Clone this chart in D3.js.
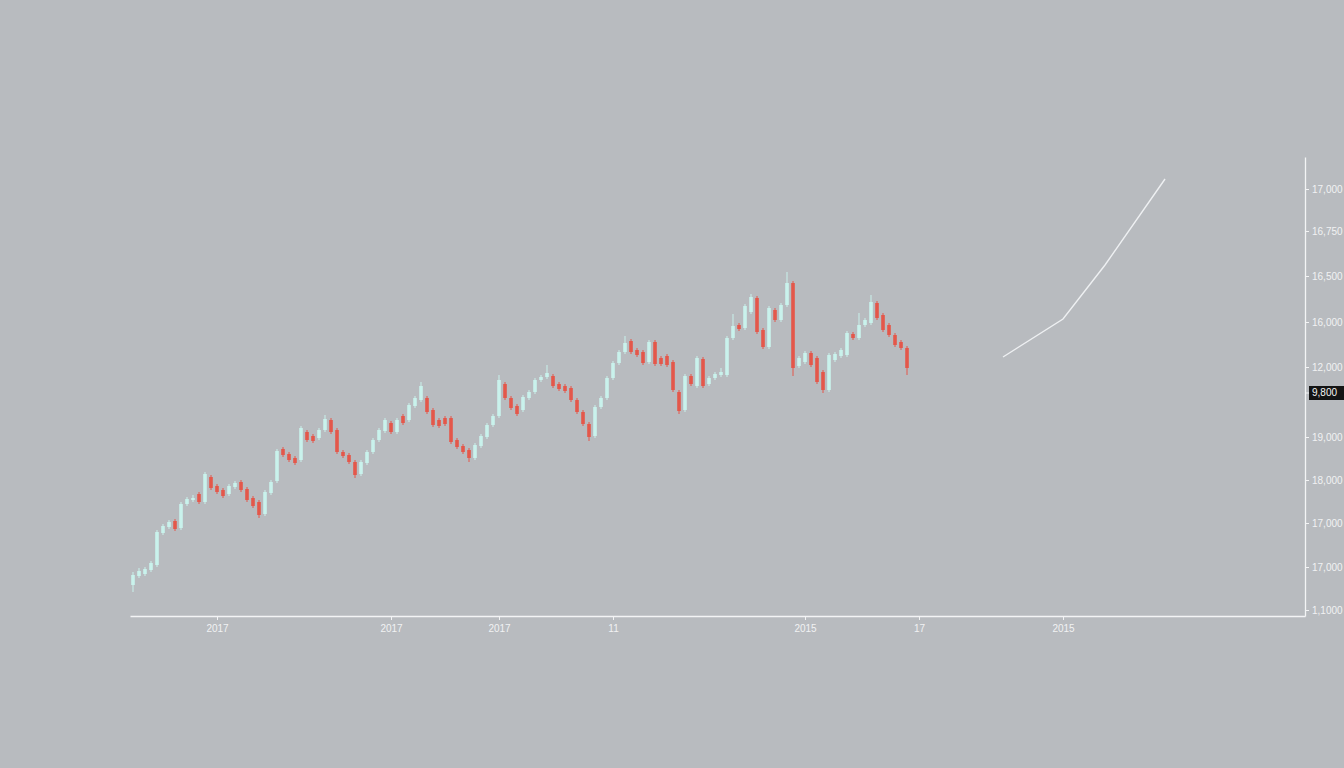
<!DOCTYPE html>
<html>
<head>
<meta charset="utf-8">
<script src="https://cdn.jsdelivr.net/npm/d3@7"></script>
<style>
  html, body { margin: 0; padding: 0; background: #b8bbbf; }
  svg { display: block; }
  .axis text { font-family: "Liberation Sans", Arial, sans-serif; fill: #f1f2f3; }
  .axis path, .axis line { stroke: #f3f4f5; }
</style>
</head>
<body>
<svg id="chart" width="1344" height="768"></svg>
<script>
// ---- data ----
const opens = [11250,11340,11360,11400,11450,11770,11830,11890,11820,12060,12100,12160,12080,12330,12240,12200,12160,12230,12280,12210,
  12120,12080,11960,12170,12290,12610,12560,12520,12500,12780,12740,12720,12800,12900,12800,12580,12550,12480,12360,12470,
  12580,12700,12790,12870,12780,12940,12900,13040,13100,13120,13000,12900,12920,12920,12700,12640,12600,12520,12640,12730,
  12850,12940,13260,13120,13040,13000,13120,13180,13300,13330,13340,13260,13240,13220,13100,12980,12860,12740,13030,13120,
  13320,13470,13580,13690,13600,13580,13480,13680,13520,13540,13480,13180,13000,13340,13240,13510,13260,13320,13350,13350,
  13720,13850,13820,13980,14120,13800,13630,14000,13900,14050,14270,13440,13480,13570,13520,13380,13200,13500,13540,13550,
  13760,13720,13850,13870,14070,13950,13850,13750,13680,13620];
const closes = [11350,11390,11410,11470,11780,11840,11880,11810,12060,12110,12120,12080,12360,12220,12180,12140,12240,12270,12200,12100,
  12040,11950,12180,12280,12590,12550,12500,12470,12820,12700,12690,12800,12910,12780,12580,12540,12480,12350,12480,12580,
  12700,12800,12900,12780,12900,12870,13050,13120,13240,12980,12850,12840,12860,12680,12630,12580,12520,12650,12740,12850,
  12940,13300,13120,13020,12960,13130,13180,13300,13330,13370,13240,13210,13190,13100,12980,12860,12730,13030,13120,13320,
  13470,13580,13670,13580,13550,13470,13680,13460,13460,13450,13200,12990,13340,13260,13520,13240,13320,13360,13380,13720,
  13840,13810,14040,14130,13780,13630,14020,13900,14050,14270,13420,13520,13570,13450,13280,13200,13550,13560,13600,13770,
  13720,13850,13900,14080,13920,13800,13750,13650,13620,13420];
const highs = [11380,11420,11430,11490,11800,11860,11900,11910,12080,12130,12150,12180,12380,12350,12260,12220,12260,12290,12300,12230,
  12140,12100,12200,12300,12610,12630,12580,12540,12840,12800,12760,12820,12950,12920,12820,12600,12570,12500,12500,12600,
  12720,12820,12920,12890,12920,12960,13070,13140,13280,13140,13020,12920,12940,12940,12720,12660,12620,12670,12760,12870,
  12960,13350,13280,13140,13060,13150,13200,13320,13350,13450,13360,13280,13260,13240,13120,13000,12880,13050,13140,13340,
  13490,13600,13740,13710,13620,13600,13700,13700,13540,13560,13500,13200,13360,13360,13540,13530,13340,13380,13420,13740,
  13960,13870,14060,14160,14140,13820,14040,14020,14070,14380,14290,13540,13590,13590,13540,13400,13570,13580,13620,13790,
  13780,13970,13920,14150,14090,13970,13870,13770,13700,13640];
const lows = [11180,11320,11340,11380,11430,11750,11810,11790,11800,12040,12080,12060,12060,12200,12160,12120,12140,12210,12180,12080,
  12020,11920,11940,12150,12270,12530,12480,12450,12480,12680,12670,12700,12780,12760,12560,12520,12460,12320,12340,12450,
  12560,12680,12770,12760,12760,12850,12880,13020,13080,12960,12830,12820,12840,12660,12610,12560,12480,12500,12620,12710,
  12830,12920,13100,13000,12940,12980,13100,13160,13280,13310,13220,13190,13170,13080,12960,12840,12690,12720,13010,13100,
  13300,13450,13560,13560,13530,13450,13460,13440,13440,13430,13180,12960,12980,13240,13220,13220,13240,13300,13330,13330,
  13700,13790,13800,13960,13760,13610,13610,13880,13880,14030,13340,13420,13460,13430,13260,13170,13180,13480,13520,13530,
  13700,13700,13830,13850,13900,13780,13730,13630,13600,13350];

// projection line to the right of the candles
const lineIndex = [145, 155, 162, 172];
const lineValues = [13530, 13910, 14450, 15310];

// axis ticks
const xTickIndex = [14, 43, 61, 80, 112, 131, 155];
const xTickLabels = ["2017", "2017", "2017", "11", "2015", "17", "2015"];
const yTickValues = [15210, 14790, 14340, 13880, 13430, 12730, 12300, 11870, 11430, 11000];
const yTickLabels = ["17,000", "16,750", "16,500", "16,000", "12,000", "19,000", "18,000", "17,000", "17,000", "1,1000"];
const markerValue = 13170;
const markerLabel = "9,800";

// ---- chart ----
const svg = d3.select("#chart");
const candles = opens.map((o, i) => ({ i, o, c: closes[i], h: highs[i], l: lows[i] }));

const x = d3.scaleLinear().domain([-0.5, 195.33]).range([130, 1305]);
const y = d3.scaleLinear().domain([10940, 15530]).range([616, 157]);

const up = "#c9f2ec", down = "#e4574a";
const bodyW = 3.6;

const g = svg.append("g");
g.selectAll("line.wick").data(candles).join("line")
  .attr("class", "wick")
  .attr("x1", d => x(d.i)).attr("x2", d => x(d.i))
  .attr("y1", d => y(d.h)).attr("y2", d => y(d.l))
  .attr("stroke", d => d.c >= d.o ? up : down)
  .attr("stroke-width", 1);
g.selectAll("rect.body").data(candles).join("rect")
  .attr("class", "body")
  .attr("x", d => x(d.i) - bodyW / 2)
  .attr("width", bodyW)
  .attr("y", d => y(Math.max(d.o, d.c)))
  .attr("height", d => Math.max(1.5, Math.abs(y(d.o) - y(d.c))))
  .attr("fill", d => d.c >= d.o ? up : down);

// projection line
svg.append("path")
  .datum(lineIndex.map((k, j) => [k, lineValues[j]]))
  .attr("fill", "none")
  .attr("stroke", "#eef0f2")
  .attr("stroke-width", 1.4)
  .attr("d", d3.line().x(d => x(d[0])).y(d => y(d[1])));

// bottom axis
const xAxis = d3.axisBottom(x)
  .tickValues(xTickIndex)
  .tickFormat((d, j) => xTickLabels[j])
  .tickSize(4).tickSizeOuter(0).tickPadding(5);
const gx = svg.append("g").attr("class", "axis").attr("transform", "translate(0,616)").call(xAxis);
gx.select(".domain").attr("stroke-width", 1.6);
gx.selectAll("text").attr("font-size", 10);

// right axis
const yAxis = d3.axisRight(y)
  .tickValues(yTickValues)
  .tickFormat((d, j) => yTickLabels[j])
  .tickSize(4).tickSizeOuter(0).tickPadding(3);
const gy = svg.append("g").attr("class", "axis").attr("transform", "translate(1305,0)").call(yAxis);
gy.select(".domain").attr("stroke-width", 1.3);
gy.selectAll("text").attr("font-size", 10);

// current value marker
const mk = svg.append("g").attr("transform", `translate(1305,${y(markerValue)})`);
mk.append("line").attr("x1", 0).attr("x2", 4).attr("stroke", "#f3f4f5");
mk.append("rect").attr("x", 4).attr("y", -7).attr("width", 40).attr("height", 14).attr("fill", "#141414");
mk.append("text").attr("x", 7).attr("dy", "0.34em")
  .attr("font-family", "Liberation Sans, Arial, sans-serif")
  .attr("font-size", 10).attr("fill", "#f4f4f4").text(markerLabel);
</script>
</body>
</html>
